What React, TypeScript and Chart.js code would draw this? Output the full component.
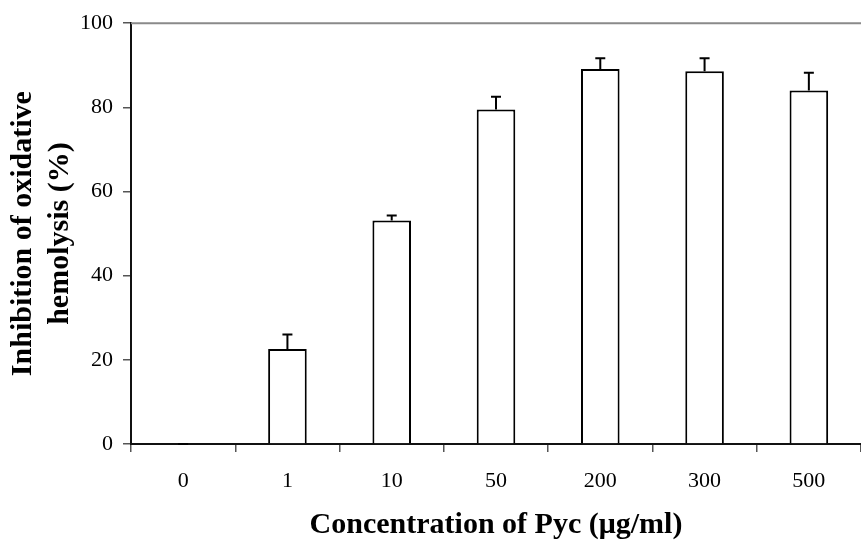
import { useEffect, useRef } from 'react';
import { Chart, registerables } from 'chart.js';

Chart.register(...registerables);

const categories = ['0', '1', '10', '50', '200', '300', '500'];
const inhibition = [0, 22.6, 53.1, 79.5, 89.1, 88.6, 84.0];
const errorUp = [0, 3.4, 1.2, 3.0, 2.6, 3.1, 4.2];
const yMin = 0;
const yMax = 100;
const yStep = 20;
const xTitle = 'Concentration of Pyc (μg/ml)';
const yTitle = ['Inhibition of oxidative', 'hemolysis (%)'];

const FONT = "'Liberation Serif', 'Times New Roman', serif";

const errorBarPlugin = {
  id: 'errorBars',
  afterDatasetsDraw(chart: any) {
    const meta = chart.getDatasetMeta(0);
    const yScale = chart.scales.y;
    const ctx = chart.ctx;
    ctx.save();
    ctx.strokeStyle = '#000';
    ctx.lineWidth = 2;
    meta.data.forEach((el: any, i: number) => {
      const x = el.x;
      const yb = yScale.getPixelForValue(inhibition[i]);
      const yt = yScale.getPixelForValue(inhibition[i] + errorUp[i]);
      ctx.beginPath();
      ctx.moveTo(x, yb);
      ctx.lineTo(x, yt);
      ctx.moveTo(x - 5, yt);
      ctx.lineTo(x + 5, yt);
      ctx.stroke();
    });
    ctx.restore();
  },
};

const topLinePlugin = {
  id: 'topLine',
  afterDraw(chart: any) {
    const { ctx, chartArea } = chart;
    ctx.save();
    ctx.strokeStyle = '#8a8a8a';
    ctx.lineWidth = 2;
    ctx.beginPath();
    ctx.moveTo(chartArea.left, chartArea.top);
    ctx.lineTo(chart.width, chartArea.top);
    ctx.stroke();
    ctx.restore();
  },
};

export default function App() {
  const ref = useRef<HTMLCanvasElement>(null);
  useEffect(() => {
    if (!ref.current) return;
    const chart = new Chart(ref.current, {
      type: 'bar',
      data: {
        labels: categories,
        datasets: [
          {
            data: inhibition,
            backgroundColor: '#ffffff',
            borderColor: '#000000',
            borderWidth: 2,
            categoryPercentage: 1,
            barPercentage: 0.37,
          },
        ],
      },
      options: {
        animation: false,
        responsive: false,
        layout: { padding: { top: 20, right: 0, left: 0, bottom: 0 } },
        plugins: {
          legend: { display: false },
          tooltip: { enabled: false },
        },
        scales: {
          x: {
            afterFit: (s: any) => {
              s.height = 98;
            },
            grid: {
              display: true,
              drawOnChartArea: false,
              drawTicks: true,
              tickLength: 8,
              color: '#555',
              lineWidth: 1.5,
              offset: true,
            },
            border: { color: '#111', width: 2 },
            ticks: {
              color: '#000',
              font: { family: FONT, size: 22 },
              padding: 16,
            },
            title: {
              display: true,
              text: xTitle,
              color: '#000',
              font: { family: FONT, size: 30, weight: 'bold', lineHeight: 1.1 },
              padding: { top: 0, bottom: 0 },
            },
          },
          y: {
            min: yMin,
            max: yMax,
            afterFit: (s: any) => {
              s.width = 131;
            },
            grid: {
              display: true,
              drawOnChartArea: false,
              drawTicks: true,
              tickLength: 8,
              color: '#555',
              lineWidth: 1.5,
            },
            border: { color: '#111', width: 2 },
            ticks: {
              stepSize: yStep,
              color: '#000',
              font: { family: FONT, size: 22 },
              padding: 10,
            },
            title: {
              display: true,
              text: yTitle,
              color: '#000',
              font: { family: FONT, size: 30, weight: 'bold', lineHeight: 1.25 },
              padding: { top: 4, bottom: 0 },
            },
          },
        },
      },
      plugins: [errorBarPlugin, topLinePlugin],
    });
    return () => chart.destroy();
  }, []);
  return (
    <div style={{ position: 'fixed', left: 0, top: 0, width: 861, height: 542, background: '#fff' }}>
      <canvas ref={ref} width={861} height={542} />
    </div>
  );
}
